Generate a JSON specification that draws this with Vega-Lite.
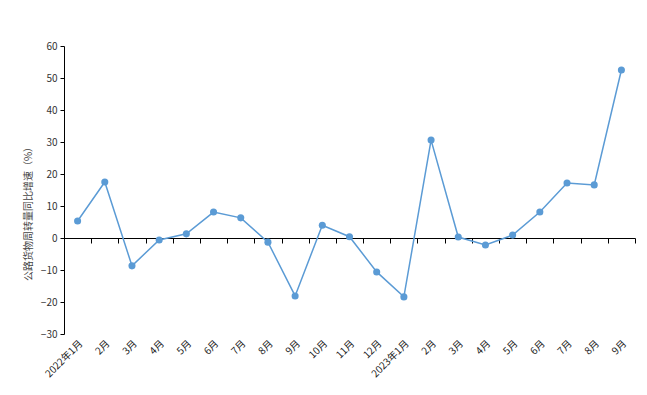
{
  "$schema": "https://vega.github.io/schema/vega-lite/v6.json",
  "autosize": {"type": "none"},
  "width": 571,
  "height": 288,
  "padding": {"left": 64, "top": 46, "right": 12, "bottom": 61},
  "background": "white",
  "config": {"view": {"stroke": null}, "font": "Noto Sans CJK SC"},
  "data": {"values": [
    {"period": "2022年1月", "v": 5.3},
    {"period": "2022年2月", "v": 17.5},
    {"period": "2022年3月", "v": -8.7},
    {"period": "2022年4月", "v": -0.6},
    {"period": "2022年5月", "v": 1.3},
    {"period": "2022年6月", "v": 8.1},
    {"period": "2022年7月", "v": 6.3},
    {"period": "2022年8月", "v": -1.3},
    {"period": "2022年9月", "v": -18.1},
    {"period": "2022年10月", "v": 4.0},
    {"period": "2022年11月", "v": 0.4},
    {"period": "2022年12月", "v": -10.6},
    {"period": "2023年1月", "v": -18.4},
    {"period": "2023年2月", "v": 30.6},
    {"period": "2023年3月", "v": 0.3},
    {"period": "2023年4月", "v": -2.2},
    {"period": "2023年5月", "v": 0.9},
    {"period": "2023年6月", "v": 8.1},
    {"period": "2023年7月", "v": 17.2},
    {"period": "2023年8月", "v": 16.6},
    {"period": "2023年9月", "v": 52.5}
  ]},
  "encoding": {
    "y": {"field": "v", "type": "quantitative",
      "scale": {"domain": [-30, 60], "nice": false, "zero": false},
      "axis": {"values": [-30, -20, -10, 0, 10, 20, 30, 40, 50, 60], "grid": false,
        "labelOverlap": false, "labelFlush": false,
        "domainColor": "#000", "tickColor": "#000", "tickSize": 4,
        "labelFontSize": 10, "labelColor": "#333", "labelPadding": 3,
        "title": "公路货物周转量同比增速（%）", "titleFontSize": 10, "titleFontWeight": "normal",
        "titleColor": "#444", "titlePadding": 7, "titleY": 165}}
  },
  "resolve": {"axis": {"x": "independent"}},
  "layer": [
    {
      "mark": {"type": "line", "color": "#5B9BD5", "strokeWidth": 1.5},
      "encoding": {
        "x": {"field": "period", "type": "ordinal", "sort": null,
          "scale": {"type": "band", "paddingInner": 0, "paddingOuter": 0},
          "axis": {"orient": "bottom", "offset": -96, "labels": false, "title": null,
            "domain": true, "domainColor": "#000", "domainWidth": 1,
            "ticks": true, "tickBand": "extent", "tickColor": "#000", "tickSize": 5, "grid": false}}
      }
    },
    {
      "mark": {"type": "point", "filled": true, "color": "#5B9BD5", "size": 50, "opacity": 1},
      "encoding": {
        "x": {"field": "period", "type": "ordinal", "sort": null,
          "axis": {"orient": "bottom", "domain": false, "ticks": false, "title": null, "grid": false,
            "labelAngle": -45, "labelFontSize": 10, "labelColor": "#222", "labelPadding": 4,
            "labelExpr": "indexof(datum.value,'年1月')>=0 ? datum.value : split(datum.value,'年')[1]"}}
      }
    }
  ]
}
